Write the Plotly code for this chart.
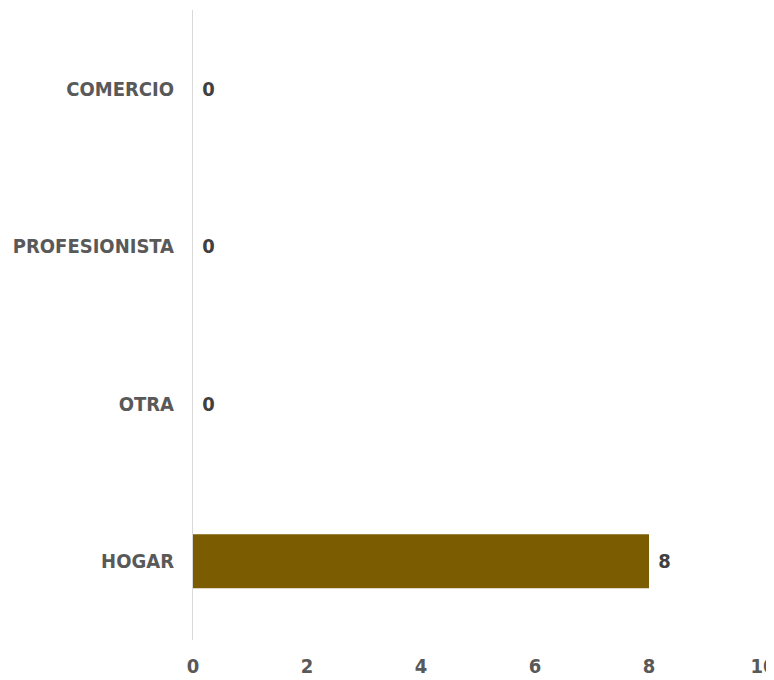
import plotly.graph_objects as go

categories = ["HOGAR", "OTRA", "PROFESIONISTA", "COMERCIO"]
values = [8, 0, 0, 0]
x_ticks = [0, 2, 4, 6, 8, 10]

font_family = "Liberation Sans Narrow, Arial Narrow, DejaVu Sans Condensed, sans-serif"

fig = go.Figure()

fig.add_trace(go.Bar(
    y=categories,
    x=values,
    orientation="h",
    marker=dict(color="#7B5C00", line=dict(width=0)),
    text=values,
    texttemplate=" %{x}",
    textposition="outside",
    cliponaxis=False,
    textfont=dict(family=font_family, size=20, color="#404040", weight="bold"),
))

fig.update_layout(
    width=774,
    height=680,
    margin=dict(l=185, r=19, t=2, b=48),
    plot_bgcolor="white",
    paper_bgcolor="white",
    bargap=0.657,
    showlegend=False,
    font=dict(family=font_family, size=20, color="#595959", weight="bold"),
)

fig.update_xaxes(
    range=[0, 10],
    tickvals=x_ticks,
    showgrid=False,
    zeroline=False,
    showline=False,
    ticks="",
    automargin=False,
    ticklabelstandoff=12,
    ticklabeloverflow="allow",
    tickfont=dict(family=font_family, size=20, color="#595959", weight="bold"),
)
fig.update_yaxes(
    showgrid=False,
    zeroline=False,
    showline=True,
    linecolor="#D9D9D9",
    linewidth=1,
    ticks="",
    automargin=False,
    ticklabelstandoff=14,
    tickfont=dict(family=font_family, size=20, color="#595959", weight="bold"),
)

fig.write_html("out.html")
